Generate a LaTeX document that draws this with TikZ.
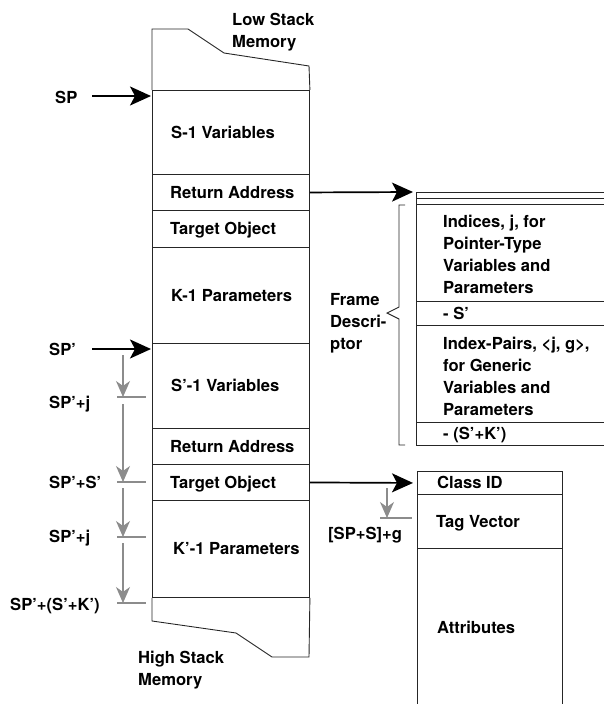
\documentclass[tikz,border=0pt]{standalone}
\usepackage{fontspec}
\setmainfont{TeX Gyre Heros}
\usetikzlibrary{arrows.meta}
\begin{document}
\begin{tikzpicture}[x=1pt,y=-1pt,
  every node/.style={font=\fontsize{16.6}{22}\selectfont\bfseries},
  cell/.style={draw=black!85, line width=0.9pt, minimum width=157pt, inner sep=0pt, anchor=north west},
  fdcell/.style={draw=black!85, line width=0.9pt, minimum width=194pt, inner sep=0pt, anchor=north west},
  cbcell/.style={draw=black!85, line width=0.9pt, minimum width=145pt, inner sep=0pt, anchor=north west},
  lbl/.style={anchor=west, inner sep=0pt, text height=12pt, text depth=0pt},
  mlbl/.style={anchor=west, inner sep=0pt, align=left},
  outline/.style={draw=black!85, line width=0.9pt},
  bigarrow/.style={line width=1.7pt, -{Stealth[length=21pt,width=19pt,inset=5pt]}},
  grayarrow/.style={draw=black!45, line width=1.1pt, -{Stealth[length=16pt,width=14pt,inset=5pt]}},
  graytick/.style={draw=black!45, line width=1.1pt}
]
\useasboundingbox (0,0) rectangle (603,704);

% stack cells
\node[cell, minimum height=84pt] (c1) at (152,90) {};
\node[cell, minimum height=36pt] (c2) at (152,174) {};
\node[cell, minimum height=37pt] (c3) at (152,210) {};
\node[cell, minimum height=96pt] (c4) at (152,247) {};
\node[cell, minimum height=85pt] (c5) at (152,343) {};
\node[cell, minimum height=36pt] (c6) at (152,428) {};
\node[cell, minimum height=36pt] (c7) at (152,464) {};
\node[cell, minimum height=97pt] (c8) at (152,500) {};

\draw[outline] (c1.north west) -- (152,29) -- (188,29) -- (224,53) -- (309,66) -- (c1.north east);
\draw[outline] (c8.south west) -- (152,621) -- (236,633) -- (272,657) -- (309,657) -- (c8.south east);

\node[lbl] at ([xshift=19pt]c1.west) {S-1 Variables};
\node[lbl] at ([xshift=18pt]c2.west) {Return Address};
\node[lbl] at ([xshift=18pt]c3.west) {Target Object};
\node[lbl] at ([xshift=19pt]c4.west) {K-1 Parameters};
\node[lbl] at ([xshift=19pt]c5.west) {S'-1 Variables};
\node[lbl] at ([xshift=18pt]c6.west) {Return Address};
\node[lbl] at ([xshift=18pt]c7.west) {Target Object};
\node[lbl] at ([xshift=21pt]c8.west) {K'-1 Parameters};

\node[mlbl] (low) at (232,32) {Low Stack\\Memory};
\node[mlbl] (high) at (138,670) {High Stack\\Memory};

% frame descriptor
\node[fdcell, minimum height=12pt] (fd0) at (416,192) {};
\node[fdcell, minimum height=97pt] (fd1) at (416,204) {};
\node[fdcell, minimum height=24pt] (fd2) at (416,301) {};
\node[fdcell, minimum height=97pt] (fd3) at (416,325) {};
\node[fdcell, minimum height=23pt] (fd4) at (416,422) {};
\draw[outline] (fd0.west) -- (fd0.east);

\node[mlbl] at (443,254) {Indices, j, for\\Pointer-Type\\Variables and\\Parameters};
\node[lbl] at ([xshift=27pt]fd2.west) {- S'};
\node[mlbl] at (443,376) {Index-Pairs, \textless j, g\textgreater,\\for Generic\\Variables and\\Parameters};
\node[lbl] at ([xshift=27pt]fd4.west) {- (S'+K')};

\draw[outline] (405,205) -- (399,205) -- (399,307) -- (387,313) -- (399,319) -- (399,445) -- (405,445);
\node[mlbl] (fdl) at (330,323) {Frame\\Descri-\\ptor};

% class box
\node[cbcell, minimum height=23pt] (cls) at (417,471) {};
\node[cbcell, minimum height=54pt] (tag) at (417,494) {};
\node[cbcell, minimum height=170pt] (attr) at (417,548) {};
\node[lbl] at ([xshift=20pt]cls.west) {Class ID};
\node[lbl] at ([xshift=19pt]tag.west) {Tag Vector};
\node[lbl] at (437,627) {Attributes};

% black arrows
\draw[bigarrow] (c2.east) -- ([xshift=-3pt]fd0.north west);
\draw[bigarrow] (c7.east) -- ([xshift=-4pt]cls.west);

\node[lbl] (sp) at (55,97) {SP};
\coordinate (spa) at (92,96);
\draw[bigarrow, shorten >=1pt] (spa) -- (spa -| c1.west);

\node[lbl] (sp2) at (49,349) {SP'};
\coordinate (spb) at (92,349);
\draw[bigarrow, shorten >=1pt] (spb) -- (spb -| c5.west);

% gray offset arrows
\coordinate (g0) at (123,355);
\coordinate (g1) at (123,397);
\coordinate (g1b) at (123,404);
\coordinate (g2) at (123,482);
\coordinate (g2b) at (123,488);
\coordinate (g3) at (123,537);
\coordinate (g3b) at (123,543);
\coordinate (g4) at (123,603);
\draw[grayarrow] (g0) -- (g1);
\draw[grayarrow] (g1b) -- (g2);
\draw[grayarrow] (g2b) -- (g3);
\draw[grayarrow] (g3b) -- (g4);
\foreach \t in {g1,g2,g3,g4}
  \draw[graytick] ([xshift=-6pt]\t) -- ([xshift=23pt]\t);

\node[lbl] (l1) at (49,402) {SP'+j};
\node[lbl] (l2) at (49,482) {SP'+S'};
\node[lbl] (l3) at (49,536) {SP'+j};
\node[lbl] (l4) at (10,604) {SP'+(S'+K')};

\coordinate (h0) at (387,488);
\coordinate (h1) at (387,518);
\draw[grayarrow] (h0) -- (h1);
\draw[graytick] ([xshift=-7pt]h1) -- ([xshift=25pt]h1);
\node[lbl] (l5) at (328,533) {[SP+S]+g};
\end{tikzpicture}
\end{document}
